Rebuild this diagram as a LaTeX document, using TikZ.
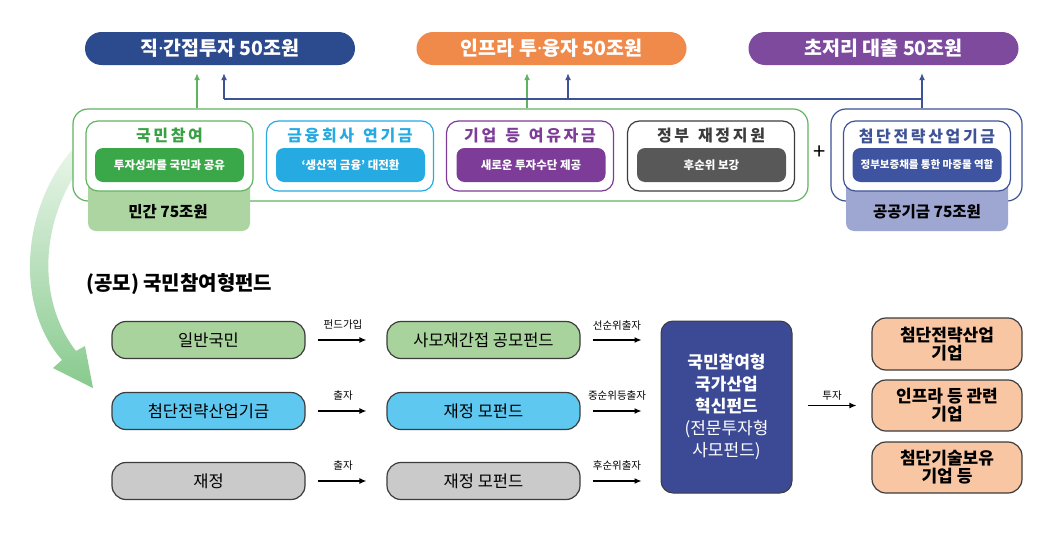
\documentclass[tikz,border=0pt]{standalone}
\usepackage{fontspec}
\setmainfont{Noto Sans CJK KR}
\newfontfamily\dotfont{Noto Sans}
\newcommand{\mdot}{{\dotfont ·}}
\usetikzlibrary{arrows.meta}
\definecolor{cNavy}{RGB}{44,74,142}
\definecolor{cOrange}{RGB}{240,138,75}
\definecolor{cPurpleP}{RGB}{125,74,158}
\definecolor{cGreenLine}{RGB}{96,180,96}
\definecolor{cBlueLine}{RGB}{62,82,150}
\definecolor{cGreenT}{RGB}{58,160,68}
\definecolor{cGreenF}{RGB}{58,168,72}
\definecolor{cCyan}{RGB}{38,170,226}
\definecolor{cPurple}{RGB}{125,60,152}
\definecolor{cDark}{RGB}{60,60,60}
\definecolor{cGrayF}{RGB}{88,88,88}
\definecolor{cBlueF}{RGB}{62,84,160}
\definecolor{cPub}{RGB}{158,166,210}
\definecolor{cPriv}{RGB}{172,213,162}
\definecolor{cLGreen}{RGB}{168,211,156}
\definecolor{cLCyan}{RGB}{95,200,240}
\definecolor{cLGray}{RGB}{202,202,202}
\definecolor{cCenter}{RGB}{60,74,150}
\definecolor{cPeach}{RGB}{248,198,162}
\definecolor{cArrowG}{RGB}{136,202,142}
\definecolor{cArrowTop}{RGB}{232,245,232}
\tikzset{
  pill/.style={minimum width=270pt, minimum height=33pt, rounded corners=16.5pt, inner sep=0pt,
    text=white, font=\fontsize{19.5}{22}\selectfont\bfseries},
  outerbox/.style={draw, line width=1.2pt, fill=white, minimum height=92pt, rounded corners=15pt, inner sep=0pt},
  innerbox/.style={draw, line width=1.2pt, fill=white, minimum width=167pt, minimum height=70pt, rounded corners=12pt, inner sep=0pt},
  ititle/.style={font=\fontsize{16}{18}\selectfont\bfseries, inner sep=0pt},
  ipill/.style={minimum width=149pt, minimum height=34pt, rounded corners=8pt, inner sep=0pt, text=white,
    font=\fontsize{11.5}{13}\selectfont\bfseries},
  sumbox/.style={minimum width=162pt, minimum height=53pt, rounded corners=8pt, inner sep=0pt},
  sumtext/.style={font=\fontsize{15.5}{17}\selectfont\bfseries, inner sep=0pt},
  upG/.style={draw=cGreenLine, line width=1.2pt, -{Latex[length=7pt,width=6pt]}},
  upB/.style={draw=cBlueLine, line width=1.2pt},
  rowbox/.style={draw=cDark, line width=1.2pt, minimum width=193pt, minimum height=37pt, rounded corners=14pt,
    inner sep=0pt, font=\fontsize{16.5}{18}\selectfont},
  arr/.style={draw=black, line width=1.2pt, -{Latex[length=7pt,width=6pt]}},
  alabel/.style={font=\fontsize{10.5}{12}\selectfont, inner sep=0pt},
  rbox/.style={draw=cDark, line width=1.2pt, fill=cPeach, minimum width=150pt, rounded corners=14pt,
    inner sep=0pt, align=center, font=\fontsize{17}{18}\selectfont\bfseries},
}
\begin{document}
\begin{tikzpicture}[x=1pt,y=-1pt]
\useasboundingbox (0,0) rectangle (1055,533);
\fill[white] (0,0) rectangle (1055,533);

% big curved arrow
\shade[top color=cArrowTop, bottom color=cArrowG]
  (72,150) .. controls (22,208) and (14,305) .. (62,360) -- (53,368) -- (93,388) -- (85,346)
  -- (76,351) .. controls (36,300) and (40,218) .. (84,162) -- cycle;

% top pills
\node[pill, fill=cNavy] (pA) at (220,48.5) {직\mdot 간접투자 50조원};
\node[pill, fill=cOrange] (pB) at (551.5,48.5) {인프라 투\mdot 융자 50조원};
\node[pill, fill=cPurpleP] (pC) at (883.5,48.5) {초저리 대출 50조원};

% outer boxes
\node[outerbox, draw=cGreenLine, minimum width=735pt] (oG) at (440.5,155) {};
\node[outerbox, draw=cBlueLine, minimum width=191pt] (oB) at (926.5,155) {};

% summary boxes
\node[sumbox, fill=cPriv] (sPriv) at (169,204.5) {};
\node[sumtext] (tPriv) at (168,212) {민간 75조원};
\node[sumbox, fill=cPub] (sPub) at (927,204.5) {};
\node[sumtext] (tPub) at (927,212) {공공기금 75조원};

% inner boxes
\node[innerbox, draw=cGreenLine] (i1) at (169.5,156) {};
\node[ititle, text=cGreenT] (t1) at (169.5,136) {국\,민\,참\,여};
\node[ipill, fill=cGreenF] (q1) at (169.5,165) {투자성과를 국민과 공유};

\node[innerbox, draw=cCyan] (i2) at (350,156) {};
\node[ititle, text=cCyan] (t2) at (350,136) {금\,융\,회\,사\, \,연\,기\,금};
\node[ipill, fill=cCyan] (q2) at (350.5,165) {‘생산적 금융’ 대전환};

\node[innerbox, draw=cPurple] (i3) at (530,156) {};
\node[ititle, text=cPurple] (t3) at (530,136) {기\,업\, \,등\, \,여\,유\,자\,금};
\node[ipill, fill=cPurple] (q3) at (531,165) {새로운 투자수단 제공};

\node[innerbox, draw=cDark] (i4) at (711,156) {};
\node[ititle, text=cDark] (t4) at (711,136) {정\,부\, \,재\,정\,지\,원};
\node[ipill, fill=cGrayF] (q4) at (711.5,165) {후순위 보강};

\node[innerbox, draw=cBlueLine] (i5) at (927,156) {};
\node[ititle, text=cBlueLine] (t5) at (927,136) {첨\,단\,전\,략\,산\,업\,기\,금};
\node[ipill, fill=cBlueF, font=\fontsize{10.5}{12}\selectfont\bfseries] (q5) at (927,165) {정부보증채를 통한 마중물 역할};

\node[font=\fontsize{22}{22}\selectfont, inner sep=0pt] (plus) at (820,153) {+};

% connectors upward
\coordinate (xg1) at (197,0);
\coordinate (xg2) at (527,0);
\coordinate (xb1) at (224,0);
\coordinate (xb2) at (568,0);
\coordinate (xb3) at (922,0);
\coordinate (hl) at (0,99);
\draw[upG, shorten >=8pt] (xg1 |- oG.north) -- (xg1 |- pA.south);
\draw[upG, shorten >=8pt] (xg2 |- oG.north) -- (xg2 |- pB.south);
\draw[upB, -{Latex[length=7pt,width=6pt]}, shorten >=8pt] (xb3 |- oB.north) -- (xb3 |- pC.south);
\draw[upB] (xb1 |- hl) -- (xb3 |- hl);
\draw[upB, -{Latex[length=7pt,width=6pt]}, shorten >=8pt] (xb1 |- hl) -- (xb1 |- pA.south);
\draw[upB, -{Latex[length=7pt,width=6pt]}, shorten >=8pt] (xb2 |- hl) -- (xb2 |- pB.south);

% section title
\node[anchor=west, font=\fontsize{20}{22}\selectfont\bfseries, inner sep=0pt] (sec) at (86,284) {(공모) 국민참여형펀드};

% lower rows
\node[rowbox, fill=cLGreen] (a1) at (208.5,340) {일반국민};
\node[rowbox, fill=cLCyan] (a2) at (208.5,411) {첨단전략산업기금};
\node[rowbox, fill=cLGray] (a3) at (208.5,481) {재정};
\node[rowbox, fill=cLGreen] (b1) at (483.5,340) {사모재간접 공모펀드};
\node[rowbox, fill=cLCyan] (b2) at (483.5,411) {재정 모펀드};
\node[rowbox, fill=cLGray] (b3) at (483.5,481) {재정 모펀드};

\draw[arr, shorten <=12pt, shorten >=20pt] (a1) -- (b1);
\draw[arr, shorten <=12pt, shorten >=20pt] (a2) -- (b2);
\draw[arr, shorten <=12pt, shorten >=20pt] (a3) -- (b3);
\node[alabel] (l1) at (343,325) {펀드가입};
\node[alabel] (l2) at (343,396) {출자};
\node[alabel] (l3) at (343,466) {출자};

\node[draw=cDark, line width=1pt, fill=cCenter, minimum width=131pt, minimum height=172pt, rounded corners=12pt,
  inner sep=0pt] (c) at (726.5,407) {};
\node[text=white, align=center, font=\fontsize{17}{22}\selectfont, inner sep=0pt] (ct) at (726.5,407)
  {\textbf{국민참여형}\\\textbf{국가산업}\\\textbf{혁신펀드}\\(전문투자형\\사모펀드)};

\coordinate (cy1) at (0,340);
\coordinate (cy2) at (0,411);
\coordinate (cy3) at (0,481);
\draw[arr, shorten <=12pt, shorten >=19pt] (b1.east) -- (c.west |- cy1);
\draw[arr, shorten <=12pt, shorten >=19pt] (b2.east) -- (c.west |- cy2);
\draw[arr, shorten <=12pt, shorten >=19pt] (b3.east) -- (c.west |- cy3);
\node[alabel] (m1) at (617,326) {선순위출자};
\node[alabel] (m2) at (617,396) {중순위등출자};
\node[alabel] (m3) at (617,466) {후순위출자};

\node[rbox, minimum height=52pt] (r1) at (947,344) {첨단전략산업\\기업};
\node[rbox, minimum height=51pt] (r2) at (947,405.5) {인프라 등 관련\\기업};
\node[rbox, minimum height=51pt] (r3) at (947,467.5) {첨단기술보유\\기업 등};

\draw[arr, shorten <=15pt, shorten >=15pt] (c.east |- r2) -- (r2.west);
\node[alabel] (m4) at (832,396) {투자};
\end{tikzpicture}
\end{document}
